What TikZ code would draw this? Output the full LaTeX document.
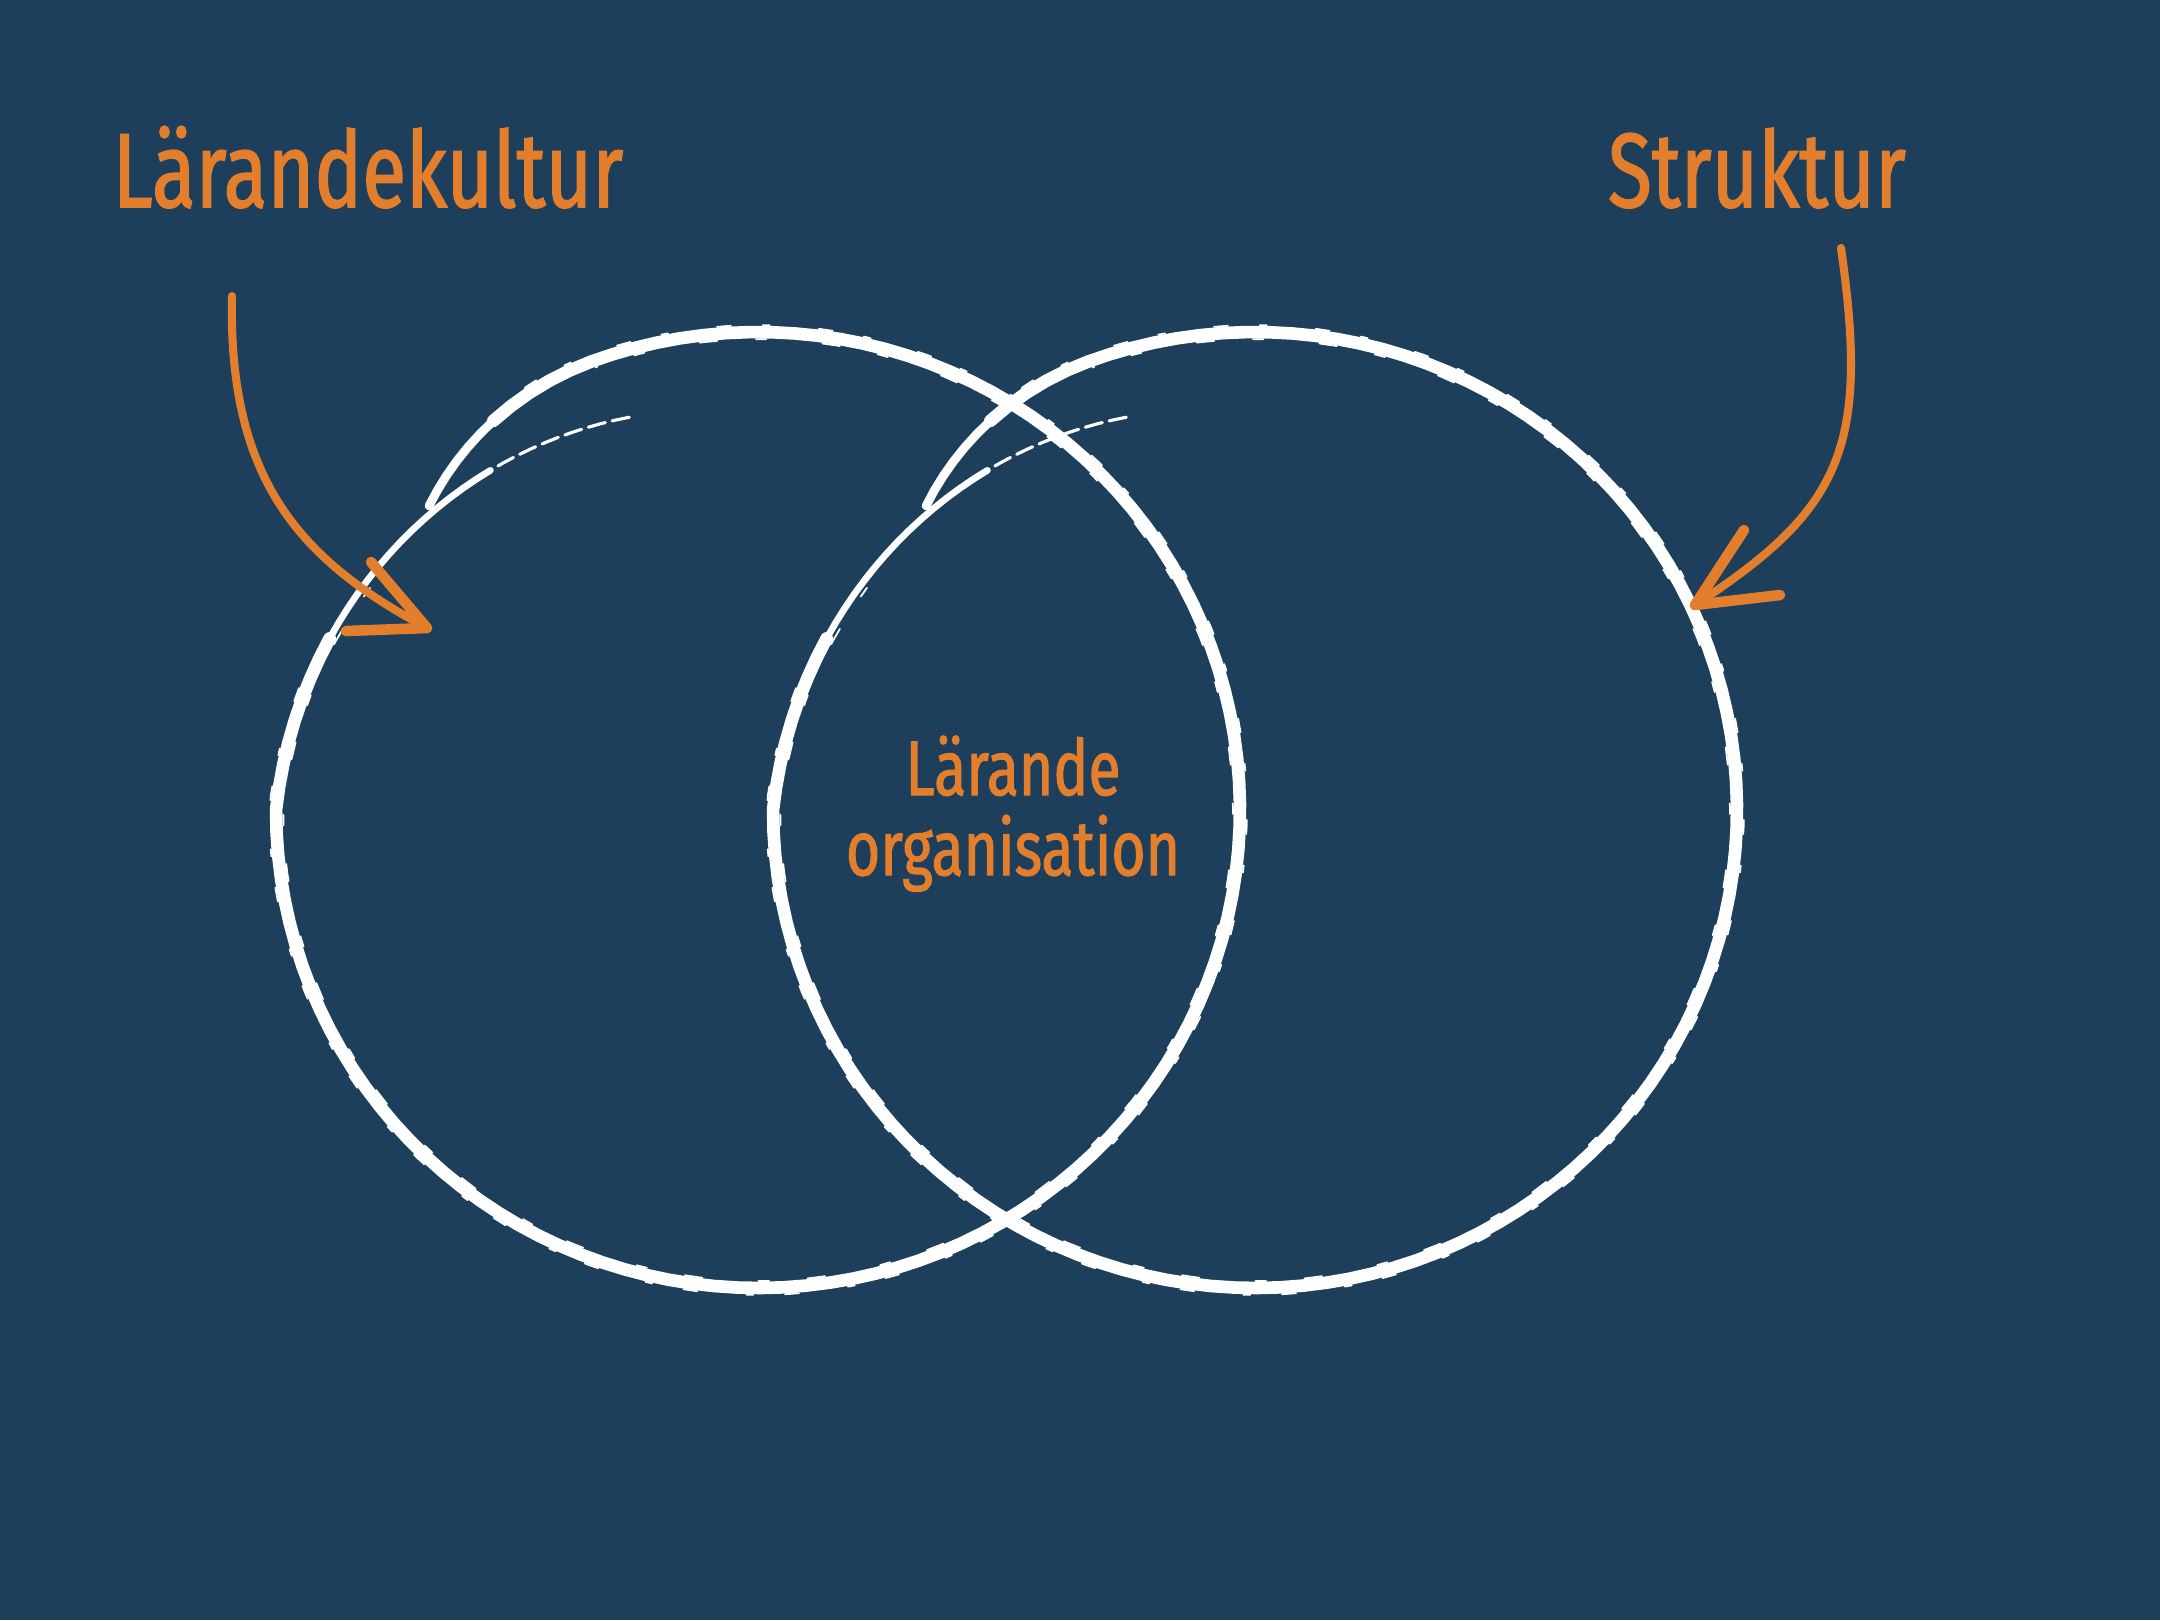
\documentclass[tikz,border=0pt]{standalone}
\usepackage{fontspec}
\setmainfont{Fira Sans}
\newfontfamily\handfont[FakeStretch=0.76, FakeBold=1.4]{Fira Sans}
\usetikzlibrary{positioning}
\definecolor{boardblue}{HTML}{1D3F5B}
\definecolor{chalkorange}{HTML}{E27E2C}
\tikzset{
  title/.style={text=chalkorange, inner sep=0pt, anchor=base,
    font=\handfont\fontsize{30}{32}\selectfont},
  inlabel/.style={text=chalkorange, inner sep=0pt, anchor=base,
    font=\handfont\fontsize{22}{23}\selectfont},
  pointer/.style={draw=chalkorange, line width=2.3pt, line cap=round},
  barb/.style={draw=chalkorange, line width=3pt, line cap=round},
  ring/.style={draw=white, line cap=round, line join=round},
}
\begin{document}
\begin{tikzpicture}[x=0.01cm, y=-0.01cm,
  declare function={rr(\t)=1-0.136*max(0,(180-\t)/72)-0.067*(max(0,(\t-470)/27))^2;}]
  \fill[boardblue] (0,0) rectangle (2160,1620);
  % the two rings
  \foreach \cx in {758,1255} {
    \draw[ring, line width=0.9pt, dash pattern=on 5pt off 2pt]
      plot[domain=108:130, samples=12, variable=\t] ({\cx+482*rr(\t)*cos(\t)}, {810-478*rr(\t)*sin(\t)});
    \draw[ring, line width=1.9pt]
      plot[domain=128:160, samples=16, variable=\t] ({\cx+482*rr(\t)*cos(\t)}, {810-478*rr(\t)*sin(\t)});
    \draw[ring, line width=3.6pt]
      plot[domain=158:484, samples=120, variable=\t] ({\cx+482*rr(\t)*cos(\t)}, {810-478*rr(\t)*sin(\t)});
    \draw[ring, line width=2.5pt]
      plot[domain=482:497, samples=8, variable=\t] ({\cx+482*rr(\t)*cos(\t)}, {810-478*rr(\t)*sin(\t)});
    % brush flecks
    \draw[ring, line width=0.5pt, dash pattern=on 4pt off 14pt on 2pt off 9pt]
      plot[domain=165:480, samples=120, variable=\t] ({\cx+489*rr(\t)*cos(\t)}, {810-485*rr(\t)*sin(\t)});
    \draw[ring, line width=0.5pt, dash pattern=on 3pt off 11pt on 5pt off 16pt]
      plot[domain=150:470, samples=120, variable=\t] ({\cx+475*rr(\t)*cos(\t)}, {810-471*rr(\t)*sin(\t)});
  }
  % labels
  \node[title] (kultur) at (368,207) {Lärandekultur};
  \node[title] (struktur) at (1757,207) {Struktur};
  \node[inlabel] (larande) at (1013,795) {Lärande};
  \node[inlabel] (organisation) at ([yshift=-22.8pt]larande.base) {organisation};
  % pointers
  \coordinate (kulturtail) at (232,296);
  \coordinate (kulturtip) at (427,628);
  \coordinate (strukturtail) at (1841,248);
  \coordinate (strukturtip) at (1695,605);
  \draw[pointer] (kulturtail) .. controls (228,480) and (300,560) .. (kulturtip);
  \draw[barb] (kulturtip) -- (371,562);
  \draw[barb] (kulturtip) -- (346,631);
  \draw[pointer] (strukturtail) .. controls (1870,450) and (1840,510) .. (strukturtip);
  \draw[barb] (strukturtip) -- (1744,530);
  \draw[barb] (strukturtip) -- (1780,595);
\end{tikzpicture}
\end{document}
